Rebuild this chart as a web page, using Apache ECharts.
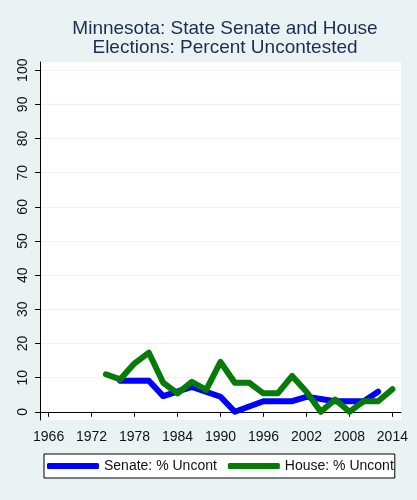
<!DOCTYPE html>
<html>
<head>
<meta charset="utf-8">
<script src="https://cdn.jsdelivr.net/npm/echarts@6/dist/echarts.min.js"></script>
<style>
  html, body { margin: 0; padding: 0; background: #eaf2f3; }
  #chart { width: 417px; height: 500px; }
</style>
</head>
<body>
<div id="chart"></div>
<script>
// senate only has elections in some years
var senateYears = [1976, 1980, 1982, 1986, 1990, 1992, 1996, 2000, 2002, 2006, 2010, 2012];
var senatePct = [9.1, 9.1, 4.6, 7.3, 4.4, 0, 3.1, 3.1, 4.4, 3.1, 3.1, 5.9];
var houseYears = [1974, 1976, 1978, 1980, 1982, 1984, 1986, 1988, 1990, 1992, 1994,
  1996, 1998, 2000, 2002, 2004, 2006, 2008, 2010, 2012, 2014];
var housePct = [11.0, 9.5, 14.2, 17.3, 8.5, 5.4, 8.8, 6.4, 14.6, 8.5, 8.5,
  5.4, 5.4, 10.5, 5.9, 0, 3.6, 0, 3.1, 3.1, 6.6];
var xTicks = [1966, 1972, 1978, 1984, 1990, 1996, 2002, 2008, 2014];
var yTicks = [0, 10, 20, 30, 40, 50, 60, 70, 80, 90, 100];

function pairs(xs, ys) {
  return xs.map(function (x, i) { return [x, ys[i]]; });
}

var chart = echarts.init(document.getElementById('chart'));
chart.setOption({
  backgroundColor: '#eaf2f3',
  animation: false,
  title: {
    text: 'Minnesota: State Senate and House\nElections: Percent Uncontested',
    left: 220,
    textAlign: 'center',
    top: 14,
    textStyle: {
      fontFamily: 'Liberation Sans, Arial',
      fontSize: 19,
      fontWeight: 'normal',
      lineHeight: 19.5,
      color: '#1c2c52'
    }
  },
  grid: {
    left: 40,
    right: 16,
    top: 62,
    bottom: 80,
    show: true,
    backgroundColor: '#ffffff',
    borderWidth: 0
  },
  xAxis: {
    type: 'value',
    min: 1964.8,
    max: 2015.2,
    axisLine: { show: true, lineStyle: { color: '#000', width: 1 } },
    axisTick: { show: true, length: 5, customValues: xTicks, lineStyle: { color: '#000' } },
    axisLabel: {
      customValues: xTicks,
      formatter: function (v) { return String(v); },
      fontFamily: 'Liberation Sans, Arial',
      fontSize: 14,
      color: '#111',
      margin: 10
    },
    splitLine: { show: false }
  },
  yAxis: {
    type: 'value',
    min: -2.4,
    max: 102.4,
    axisLine: { show: true, lineStyle: { color: '#000', width: 1 } },
    axisTick: { show: true, length: 5, customValues: yTicks, lineStyle: { color: '#000' } },
    axisLabel: {
      customValues: yTicks,
      rotate: 90,
      fontFamily: 'Liberation Sans, Arial',
      fontSize: 14,
      color: '#111',
      margin: 10
    },
    splitLine: { show: true, customValues: yTicks, lineStyle: { color: '#eaf2f3', width: 1 } }
  },
  legend: {
    left: 44,
    top: 454,
    padding: [5, 1, 5, 3],
    itemGap: 11,
    itemWidth: 52,
    itemHeight: 6,
    icon: 'roundRect',
    backgroundColor: '#ffffff',
    borderColor: '#000',
    borderWidth: 1,
    borderRadius: 0,
    textStyle: {
      fontFamily: 'Liberation Sans, Arial',
      fontSize: 14,
      color: '#111'
    },
    data: ['Senate: % Uncont', 'House: % Uncont']
  },
  series: [
    {
      name: 'Senate: % Uncont',
      type: 'line',
      data: pairs(senateYears, senatePct),
      showSymbol: false,
      color: '#0000ff',
      lineStyle: { width: 6, color: '#0000ff', cap: 'round', join: 'round' }
    },
    {
      name: 'House: % Uncont',
      type: 'line',
      data: pairs(houseYears, housePct),
      showSymbol: false,
      color: '#077b07',
      lineStyle: { width: 6, color: '#077b07', cap: 'round', join: 'round' }
    }
  ]
});
</script>
</body>
</html>
